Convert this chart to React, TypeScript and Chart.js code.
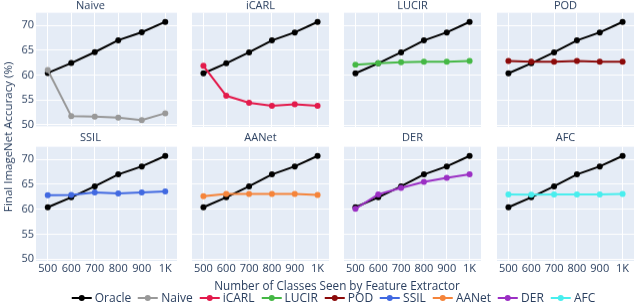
import React, { useEffect, useRef } from "react";
import { Chart, registerables } from "chart.js";

Chart.register(...registerables);

// ---------- data ----------
const classLabels = ["500", "600", "700", "800", "900", "1K"];
const yTickValues = [50, 55, 60, 65, 70];

const oracle = [60.4, 62.4, 64.6, 67.0, 68.6, 70.7];
const naive = [61.0, 51.7, 51.6, 51.4, 50.9, 52.3];
const icarl = [61.9, 55.9, 54.5, 53.9, 54.2, 53.9];
const lucir = [62.1, 62.4, 62.6, 62.7, 62.7, 62.9];
const pod = [62.9, 62.7, 62.7, 62.9, 62.7, 62.7];
const ssil = [62.8, 62.9, 63.4, 63.2, 63.4, 63.6];
const aanet = [62.6, 63.1, 63.1, 63.1, 63.1, 62.9];
const der = [60.1, 63.0, 64.3, 65.5, 66.3, 67.0];
const afc = [63.0, 62.95, 63.0, 63.0, 63.0, 63.1];

const methodNames = ["Naive", "iCARL", "LUCIR", "POD", "SSIL", "AANet", "DER", "AFC"];
const methodValues = [naive, icarl, lucir, pod, ssil, aanet, der, afc];

// ---------- styles ----------
const oracleColor = "#000000";
const methodColors = ["#999999", "#e31a4b", "#45b845", "#8b0a0a", "#4169e1", "#f5843a", "#9b2fc4", "#48eeee"];
const textColor = "#2a3f5f";
const bgColor = "#e5ecf6";
const fontFamily = "'Open Sans', 'DejaVu Sans', sans-serif";

const PLOT_LEFTS = [36, 188, 340, 493];
const PLOT_W = 145;
const PLOT_TOPS = [13, 147];
const PLOT_H = 114;
const TITLE_LH = 0.9;
const TITLE_SIZE = 11;
const TITLE_GAPS = [1.75, 3.75];
const Y_MIN = 49.66;
const Y_MAX = 72.53;

const bgPlugin = {
  id: "plotBg",
  beforeDraw(chart: any) {
    const { ctx, chartArea } = chart;
    if (!chartArea) return;
    ctx.save();
    ctx.fillStyle = bgColor;
    ctx.fillRect(chartArea.left, chartArea.top, chartArea.right - chartArea.left, chartArea.bottom - chartArea.top);
    ctx.restore();
  },
};

function Panel({ index }: { index: number }) {
  const ref = useRef<HTMLCanvasElement | null>(null);
  const col = index % 4;
  const row = Math.floor(index / 4);
  const showY = col === 0;
  const showX = row === 1;
  const yW = showY ? PLOT_LEFTS[0] : 0;
  const xH = showX ? 16 : 8;
  const titleGap = TITLE_GAPS[row];
  const titleH = TITLE_SIZE * TITLE_LH + titleGap;
  const left = PLOT_LEFTS[col] - yW;
  const top = PLOT_TOPS[row] - titleH;
  const width = PLOT_W + yW;
  const height = titleH + PLOT_H + xH;

  useEffect(() => {
    if (!ref.current) return;
    const color = methodColors[index];
    const chart = new Chart(ref.current, {
      type: "line",
      data: {
        labels: classLabels,
        datasets: [
          {
            label: methodNames[index],
            data: methodValues[index],
            borderColor: color,
            backgroundColor: color,
            pointBackgroundColor: color,
            pointBorderColor: color,
            borderWidth: 2,
            pointRadius: 3,
            pointBorderWidth: 0,
            tension: 0,
            order: 0,
          },
          {
            label: "Oracle",
            data: oracle,
            borderColor: oracleColor,
            backgroundColor: oracleColor,
            pointBackgroundColor: oracleColor,
            pointBorderColor: oracleColor,
            borderWidth: 2,
            pointRadius: 3,
            pointBorderWidth: 0,
            tension: 0,
            order: 1,
          },
        ],
      },
      options: {
        animation: false,
        responsive: false,
        maintainAspectRatio: false,
        layout: { padding: 0 },
        plugins: {
          legend: { display: false },
          tooltip: { enabled: false },
          title: {
            display: true,
            text: methodNames[index],
            color: textColor,
            font: { family: fontFamily, size: TITLE_SIZE, weight: "normal", lineHeight: TITLE_LH },
            padding: { top: 0, bottom: titleGap },
          },
        },
        scales: {
          x: {
            type: "category",
            offset: true,
            grid: { color: "#ffffff", lineWidth: 1, drawTicks: false, offset: false },
            border: { display: false },
            ticks: {
              display: showX,
              color: textColor,
              font: { family: fontFamily, size: 11 },
              padding: 1,
              maxRotation: 0,
              autoSkip: false,
            },
            afterFit: (scale: any) => {
              scale.height = xH;
            },
          },
          y: {
            type: "linear",
            min: Y_MIN,
            max: Y_MAX,
            grid: { color: "#ffffff", lineWidth: 1, drawTicks: false },
            border: { display: false },
            ticks: {
              display: showY,
              color: textColor,
              font: { family: fontFamily, size: 11 },
              padding: 2,
            },
            afterBuildTicks: (scale: any) => {
              scale.ticks = yTickValues.map((v) => ({ value: v }));
            },
            afterFit: (scale: any) => {
              scale.width = yW;
            },
          },
        },
      },
      plugins: [bgPlugin],
    } as any);
    return () => chart.destroy();
  }, [index]);

  return (
    <canvas
      ref={ref}
      width={width}
      height={height}
      style={{ position: "absolute", left, top, width, height }}
    />
  );
}

function LegendItem({ name, color }: { name: string; color: string }) {
  return (
    <div style={{ display: "flex", alignItems: "center", marginRight: 7 }}>
      <div style={{ position: "relative", width: 20, height: 10, marginRight: 3 }}>
        <div style={{ position: "absolute", left: 0, right: 0, top: 4, height: 2, background: color }} />
        <div
          style={{
            position: "absolute",
            left: 7,
            top: 2,
            width: 6,
            height: 6,
            borderRadius: 3,
            background: color,
          }}
        />
      </div>
      <span>{name}</span>
    </div>
  );
}

export default function App() {
  useEffect(() => {
    document.body.style.margin = "0";
  }, []);
  const plotCenterX = (PLOT_LEFTS[0] + PLOT_LEFTS[3] + PLOT_W) / 2;
  const plotCenterY = (PLOT_TOPS[0] + PLOT_TOPS[1] + PLOT_H) / 2;
  return (
    <div
      style={{
        position: "fixed",
        left: 0,
        top: 0,
        width: 640,
        height: 306,
        background: "#ffffff",
        overflow: "hidden",
        fontFamily,
        color: textColor,
      }}
    >
      {methodNames.map((_, i) => (
        <Panel key={i} index={i} />
      ))}
      <div
        style={{
          position: "absolute",
          left: 8,
          top: plotCenterY,
          transform: "translate(-50%, -50%) rotate(-90deg)",
          whiteSpace: "nowrap",
          fontSize: 11.5,
          lineHeight: "14px",
        }}
      >
        Final ImageNet Accuracy (%)
      </div>
      <div
        style={{
          position: "absolute",
          left: plotCenterX,
          top: 285,
          transform: "translate(-50%, -50%)",
          whiteSpace: "nowrap",
          fontSize: 11.7,
          lineHeight: "14px",
        }}
      >
        Number of Classes Seen by Feature Extractor
      </div>
      <div
        style={{
          position: "absolute",
          left: plotCenterX,
          top: 298,
          transform: "translate(-50%, -50%)",
          display: "flex",
          whiteSpace: "nowrap",
          fontSize: 12,
          lineHeight: "14px",
        }}
      >
        <LegendItem name="Oracle" color={oracleColor} />
        {methodNames.map((n, i) => (
          <LegendItem key={n} name={n} color={methodColors[i]} />
        ))}
      </div>
    </div>
  );
}
